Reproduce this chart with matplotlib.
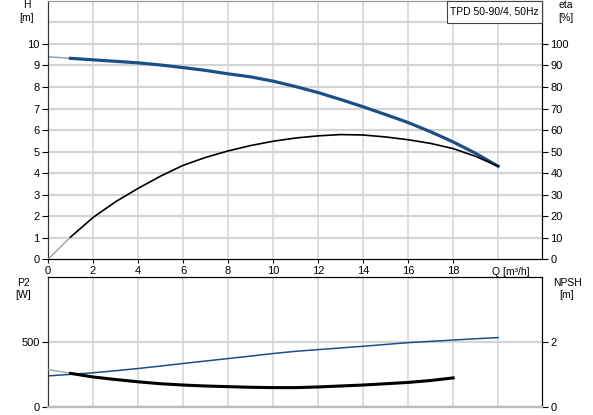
import numpy as np
import matplotlib
matplotlib.use("Agg")
import matplotlib.pyplot as plt
from matplotlib.patches import Rectangle

plt.rcParams['font.family'] = ['Liberation Sans', 'DejaVu Sans']
plt.rcParams['font.size'] = 7.5

# --- data (Q in m3/h) ---
q = [0, 1, 2, 3, 4, 5, 6, 7, 8, 9, 10, 11, 12, 13, 14, 15, 16, 17, 18, 19, 20]
head = [9.40, 9.33, 9.26, 9.19, 9.12, 9.02, 8.90, 8.77, 8.61, 8.47, 8.27,
        8.02, 7.74, 7.42, 7.08, 6.72, 6.35, 5.92, 5.45, 4.92, 4.32]
eta = [0, 10.3, 19.4, 26.7, 32.9, 38.6, 43.6, 47.3, 50.3, 52.8, 54.8,
       56.3, 57.3, 57.9, 57.7, 56.8, 55.5, 53.8, 51.4, 47.8, 43.2]
p2 = [238, 250, 262, 278, 295, 314, 334, 353, 372, 391, 411,
      428, 441, 454, 467, 481, 495, 505, 515, 525, 534]
q_npsh = [0, 1, 2, 3, 4, 5, 6, 7, 8, 9, 10, 11, 12, 13, 14, 15, 16, 17, 18]
npsh = [1.15, 1.03, 0.92, 0.84, 0.77, 0.71, 0.67, 0.64, 0.62, 0.60, 0.59,
        0.59, 0.61, 0.64, 0.67, 0.71, 0.75, 0.81, 0.89]

x_ticks = [0, 2, 4, 6, 8, 10, 12, 14, 16, 18]
title = "TPD 50-90/4, 50Hz"

blue = "#1b4f86"
grid_c = "#d4d4d4"
W, H = 593, 415

fig = plt.figure(figsize=(W / 100, H / 100), dpi=100)
ax1 = fig.add_axes([48 / W, 1 - 259.3 / H, 494 / W, 258.5 / H])
ax2 = fig.add_axes([48 / W, 1 - 406.7 / H, 494 / W, 129.4 / H])

# ================= top: H + eta =================
ax1.set_xlim(0, 21.95)
ax1.set_ylim(0, 12)
ax1.set_yticks(range(0, 11))
ax1.set_xticks(x_ticks)
for v in range(1, 12):
    ax1.axhline(v, color=grid_c, lw=1.6, zorder=0)
for v in x_ticks[1:] + [20]:
    ax1.axvline(v, color=grid_c, lw=1.1, zorder=0)

ax1e = ax1.twinx()
ax1e.set_ylim(0, 120)
ax1e.set_yticks(range(0, 101, 10))

# start segment (Q < 1) drawn thin and grey
ax1.plot(q[:2], head[:2], color="#8a9bb0", lw=1.0, zorder=3)
ax1.plot(q[1:], head[1:], color=blue, lw=2.3, zorder=4)
ax1e.plot(q[:2], eta[:2], color="#a0a0a0", lw=1.0, zorder=3)
ax1e.plot(q[1:], eta[1:], color="black", lw=1.2, zorder=3)

ax1.text(19.75, -0.35, "Q [m³/h]", ha="left", va="top", fontsize=7.5)

# title box in the top right corner
box_w, box_h = 95 / 494, 22 / 258.5
ax1e.add_patch(Rectangle((1 - box_w, 1 - box_h), box_w, box_h, transform=ax1e.transAxes,
                         fc="white", ec="#444444", lw=0.8, zorder=10, clip_on=False))
ax1e.text(1 - box_w / 2, 1 - box_h / 2, title, transform=ax1e.transAxes,
          ha="center", va="center", fontsize=7.5, zorder=11)

# ================= bottom: P2 + NPSH =================
ax2.set_xlim(0, 21.95)
ax2.set_ylim(0, 1000)
ax2.set_yticks([0, 500])
ax2.set_xticks(x_ticks + [20])
ax2.set_xticklabels([])
ax2.axhline(500, color=grid_c, lw=1.6, zorder=0)
for v in x_ticks[1:] + [20]:
    ax2.axvline(v, color=grid_c, lw=1.1, zorder=0)

ax2n = ax2.twinx()
ax2n.set_ylim(0, 4)
ax2n.set_yticks([0, 2])

ax2.plot(q, p2, color=blue, lw=1.1, zorder=3)
ax2n.plot(q_npsh[:2], npsh[:2], color="#a0a0a0", lw=1.0, zorder=3)
ax2n.plot(q_npsh[1:], npsh[1:], color="black", lw=2.2, zorder=3)

# --- axis styling ---
for a in (ax1, ax1e, ax2, ax2n):
    a.tick_params(length=4, width=0.8, pad=2, labelsize=8)
    a.spines["left"].set_color("#333333")
    a.spines["right"].set_color("black")
ax1.tick_params(axis="x", length=3)
ax2.tick_params(axis="x", length=0)
for a in (ax1, ax1e):
    a.spines["top"].set_color("#999999")
for a in (ax2, ax2n):
    a.spines["bottom"].set_color("#bbbbbb")
    a.spines["bottom"].set_linewidth(1.6)

# --- axis captions ---
fig.text(27 / W, 1 - 11.5 / H, "H\n[m]", ha="center", va="center", fontsize=7.5, linespacing=1.35)
fig.text(566 / W, 1 - 11.5 / H, "eta\n[%]", ha="center", va="center", fontsize=7.5, linespacing=1.35)
fig.text(23 / W, 1 - 289 / H, "P2\n[W]", ha="center", va="center", fontsize=7.5, linespacing=1.35)
fig.text(567 / W, 1 - 289 / H, "NPSH\n[m]", ha="center", va="center", fontsize=7.5, linespacing=1.35)

fig.savefig("out.png", dpi=100)
